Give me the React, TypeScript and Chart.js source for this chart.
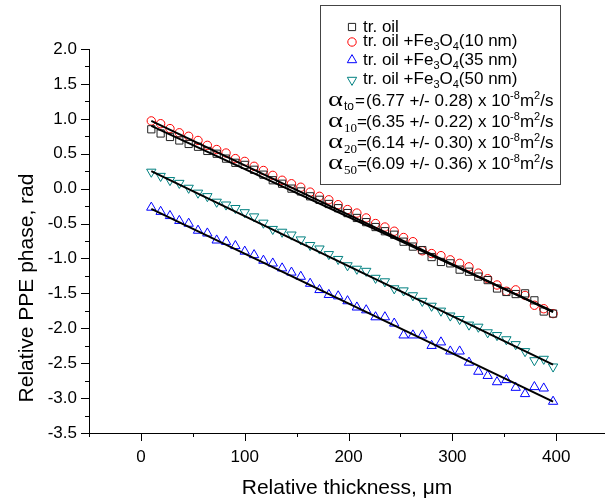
import React, { useEffect, useRef } from 'react';
import { Chart, registerables } from 'chart.js';

Chart.register(...registerables);

// ---------- data ----------
const thickness = [10, 19, 28, 37, 46, 55, 64, 73, 82, 91, 100, 109, 118, 127, 136, 145, 154, 163, 172, 181, 190, 199, 208, 217, 226, 235, 244, 253, 262, 271, 280, 289, 298, 307, 316, 325, 334, 343, 352, 361, 370, 379, 388, 397];

const phaseTrOil = [0.85, 0.79, 0.74, 0.69, 0.64, 0.60, 0.54, 0.50, 0.43, 0.37, 0.34, 0.27, 0.20, 0.12, 0.07, 0.00, -0.04, -0.11, -0.16, -0.22, -0.28, -0.35, -0.42, -0.48, -0.55, -0.61, -0.66, -0.76, -0.83, -0.88, -0.98, -1.05, -1.07, -1.16, -1.19, -1.26, -1.31, -1.43, -1.48, -1.51, -1.50, -1.60, -1.76, -1.79];
const phase10nm = [0.97, 0.93, 0.86, 0.80, 0.75, 0.69, 0.62, 0.56, 0.51, 0.43, 0.39, 0.32, 0.26, 0.19, 0.12, 0.07, 0.02, -0.05, -0.11, -0.16, -0.23, -0.30, -0.35, -0.42, -0.50, -0.55, -0.61, -0.70, -0.76, -0.89, -0.93, -0.96, -1.02, -1.07, -1.12, -1.21, -1.29, -1.38, -1.47, -1.45, -1.53, -1.67, -1.72, -1.79];
const phase35nm = [-0.27, -0.33, -0.39, -0.46, -0.50, -0.60, -0.64, -0.74, -0.76, -0.82, -0.90, -0.95, -1.03, -1.07, -1.14, -1.20, -1.26, -1.36, -1.45, -1.52, -1.54, -1.61, -1.70, -1.74, -1.84, -1.84, -1.93, -2.10, -2.10, -2.10, -2.25, -2.20, -2.33, -2.33, -2.49, -2.62, -2.68, -2.77, -2.74, -2.85, -2.94, -2.84, -2.86, -3.05];
const phase50nm = [0.24, 0.18, 0.12, 0.08, 0.01, -0.06, -0.11, -0.19, -0.23, -0.28, -0.34, -0.40, -0.49, -0.58, -0.62, -0.66, -0.73, -0.81, -0.86, -0.94, -1.01, -1.10, -1.15, -1.18, -1.28, -1.33, -1.43, -1.46, -1.53, -1.61, -1.68, -1.75, -1.82, -1.87, -1.95, -1.98, -2.06, -2.10, -2.16, -2.23, -2.33, -2.46, -2.44, -2.55];

const fitX = [10, 397];
const fitTrOil = [0.90, -1.76];
const fit10nm = [0.97, -1.77];
const fit35nm = [-0.29, -3.05];
const fit50nm = [0.25, -2.52];

const xTickValues = [-50, 0, 50, 100, 150, 200, 250, 300, 350, 400];
const xLabelTicks = [0, 100, 200, 300, 400];
const yTickValues = [-3.5, -3.0, -2.5, -2.0, -1.5, -1.0, -0.5, 0.0, 0.5, 1.0, 1.5, 2.0];
const yMinorTickValues = [-3.25, -2.75, -2.25, -1.75, -1.25, -0.75, -0.25, 0.25, 0.75, 1.25, 1.75];
const xMinorTickValues = [-50, 50, 150, 250, 350];

const xTitle = 'Relative thickness, \u03bcm';
const yTitle = 'Relative PPE phase, rad';

const legendBase = 'tr. oil';
const particleSizes = ['10 nm', '35 nm', '50 nm'];
const alphaSubs = ['to', '10', '20', '50'];
const alphaValues = ['6.77', '6.35', '6.14', '6.09'];
const alphaErrors = ['0.28', '0.22', '0.30', '0.36'];

const SANS = "'Liberation Sans', Arial, sans-serif";
const SERIF = "'Liberation Serif', 'Times New Roman', serif";

const COLORS = { oil: '#222222', n10: '#ff0000', n35: '#0000ff', n50: '#008080' };

function pts(xs: number[], ys: number[]) {
  return xs.map((x, i) => ({ x, y: ys[i] }));
}

type Seg = [string, string, number];
function drawSegs(ctx: CanvasRenderingContext2D, x: number, y: number, segs: Seg[]) {
  for (const [t, f, dy] of segs) {
    ctx.font = f;
    ctx.fillText(t, x, y + dy);
    x += ctx.measureText(t).width;
  }
  return x;
}

function marker(ctx: CanvasRenderingContext2D, kind: string, x: number, y: number, color: string) {
  ctx.save();
  ctx.strokeStyle = color;
  ctx.lineWidth = 1;
  ctx.beginPath();
  if (kind === 'rect') {
    const s = 3.6;
    ctx.rect(x - s, y - s, 2 * s, 2 * s);
  } else if (kind === 'circle') {
    ctx.arc(x, y, 4.2, 0, Math.PI * 2);
  } else if (kind === 'up') {
    const r = 5.4;
    ctx.moveTo(x, y - r);
    ctx.lineTo(x + r * 0.866, y + r / 2);
    ctx.lineTo(x - r * 0.866, y + r / 2);
    ctx.closePath();
  } else {
    const r = 5.4;
    ctx.moveTo(x, y + r);
    ctx.lineTo(x + r * 0.866, y - r / 2);
    ctx.lineTo(x - r * 0.866, y - r / 2);
    ctx.closePath();
  }
  ctx.stroke();
  ctx.restore();
}

const decorPlugin = {
  id: 'decor',
  afterDraw(chart: any) {
    const ctx: CanvasRenderingContext2D = chart.ctx;
    const xs = chart.scales.x;
    const ys = chart.scales.y;
    const ca = chart.chartArea;
    ctx.save();
    ctx.strokeStyle = '#000';
    ctx.lineWidth = 1;
    // tick marks
    ctx.beginPath();
    for (const v of xTickValues) {
      const px = Math.round(xs.getPixelForValue(v)) + 0.5;
      const len = xMinorTickValues.includes(v) ? 4 : 8;
      ctx.moveTo(px, ca.bottom);
      ctx.lineTo(px, ca.bottom + len);
    }
    for (const v of yTickValues) {
      const py = Math.round(ys.getPixelForValue(v)) + 0.5;
      ctx.moveTo(ca.left - 8, py);
      ctx.lineTo(ca.left, py);
    }
    for (const v of yMinorTickValues) {
      const py = Math.round(ys.getPixelForValue(v)) + 0.5;
      ctx.moveTo(ca.left - 4, py);
      ctx.lineTo(ca.left, py);
    }
    ctx.stroke();

    // axis titles
    ctx.fillStyle = '#000';
    ctx.font = `21px ${SANS}`;
    ctx.textAlign = 'center';
    ctx.textBaseline = 'alphabetic';
    ctx.fillText(xTitle, (ca.left + ca.right) / 2, 494);
    ctx.save();
    ctx.translate(33, 288);
    ctx.rotate(-Math.PI / 2);
    ctx.fillText(yTitle, 0, 0);
    ctx.restore();

    // legend box
    ctx.strokeStyle = '#444';
    ctx.lineWidth = 1;
    ctx.strokeRect(320.5, 5.5, 240, 179);

    ctx.textAlign = 'left';
    ctx.fillStyle = '#000';
    const main = `17px ${SANS}`;
    const sub = `11px ${SANS}`;
    const markerX = 352;
    const textX = 363;
    marker(ctx, 'rect', markerX, 27, COLORS.oil);
    drawSegs(ctx, textX, 32, [[legendBase, main, 0]]);
    const kinds = ['circle', 'up', 'down'];
    const cols = [COLORS.n10, COLORS.n35, COLORS.n50];
    const rowY = [46, 65, 84];
    const markY = [42, 60, 80];
    particleSizes.forEach((s, i) => {
      marker(ctx, kinds[i], markerX, markY[i], cols[i]);
      drawSegs(ctx, textX, rowY[i], [
        [legendBase + ' +Fe', main, 0],
        ['3', sub, 4],
        ['O', main, 0],
        ['4', sub, 4],
        ['(' + s + ')', main, 0],
      ]);
    });
    const alphaY = [106, 127, 148, 169];
    alphaSubs.forEach((sb, i) => {
      const y = alphaY[i];
      ctx.save();
      ctx.font = `22px ${SERIF}`;
      const aw = ctx.measureText('\u03b1').width;
      ctx.translate(328, y);
      ctx.scale(15 / aw, 1);
      ctx.fillText('\u03b1', 0, 0);
      ctx.restore();
      let sx = 344;
      if (sb === 'to') {
        ctx.font = `12px ${SANS}`;
        ctx.fillText(sb, sx, y + 4);
        sx += ctx.measureText(sb).width;
      } else {
        ctx.font = `13px ${SERIF}`;
        ctx.fillText(sb, sx, y + 5);
        sx += ctx.measureText(sb).width;
      }
      ctx.font = main;
      ctx.fillText('=', Math.max(sx, 355), y);
      drawSegs(ctx, 366, y, [
        [`(${alphaValues[i]} +/- ${alphaErrors[i]}) x 10`, main, 0],
        ['-8', sub, -7],
        ['m', main, 0],
        ['2', sub, -7],
        ['/s', main, 0],
      ]);
    });
    ctx.restore();
  },
};

export default function App() {
  const ref = useRef<HTMLCanvasElement>(null);
  useEffect(() => {
    if (!ref.current) return;
    Chart.defaults.font.family = SANS;
    Chart.defaults.color = '#000';
    const fitStyle = { showLine: true, borderColor: '#000', borderWidth: 2, pointRadius: 0, fill: false };
    const chart = new Chart(ref.current, {
      type: 'scatter',
      data: {
        datasets: [
          { label: 'fit oil', data: pts(fitX, fitTrOil), ...fitStyle },
          { label: 'fit 10', data: pts(fitX, fit10nm), ...fitStyle },
          { label: 'fit 35', data: pts(fitX, fit35nm), ...fitStyle },
          { label: 'fit 50', data: pts(fitX, fit50nm), ...fitStyle },
          { label: 'tr. oil', data: pts(thickness, phaseTrOil), pointStyle: 'rect', pointRadius: 5.1, borderColor: COLORS.oil, backgroundColor: 'rgba(0,0,0,0)', borderWidth: 1 },
          { label: '10 nm', data: pts(thickness, phase10nm), pointStyle: 'circle', pointRadius: 4.2, borderColor: COLORS.n10, backgroundColor: 'rgba(0,0,0,0)', borderWidth: 1 },
          { label: '35 nm', data: pts(thickness, phase35nm), pointStyle: 'triangle', pointRadius: 5.4, borderColor: COLORS.n35, backgroundColor: 'rgba(0,0,0,0)', borderWidth: 1 },
          { label: '50 nm', data: pts(thickness, phase50nm), pointStyle: 'triangle', rotation: 180, pointRadius: 5.4, borderColor: COLORS.n50, backgroundColor: 'rgba(0,0,0,0)', borderWidth: 1 },
        ] as any,
      },
      options: {
        responsive: false,
        animation: false,
        devicePixelRatio: 1,
        layout: { autoPadding: false, padding: { top: 49, left: 0, right: 0, bottom: 0 } },
        plugins: { legend: { display: false }, tooltip: { enabled: false }, title: { display: false } },
        scales: {
          x: {
            type: 'linear',
            min: -50,
            max: 447,
            afterBuildTicks: (s: any) => { s.ticks = xTickValues.map((v) => ({ value: v })); },
            afterFit: (s: any) => { s.height = 70; },
            ticks: {
              autoSkip: false,
              maxRotation: 0,
              padding: 14,
              color: '#000',
              font: { size: 17, family: SANS },
              callback: (v: any) => (xLabelTicks.includes(Number(v)) ? String(v) : ''),
            },
            grid: { display: false, drawTicks: false },
            border: { display: true, color: '#000', width: 1 },
          },
          y: {
            type: 'linear',
            min: -3.5,
            max: 2,
            afterBuildTicks: (s: any) => { s.ticks = yTickValues.map((v) => ({ value: v })); },
            afterFit: (s: any) => { s.width = 89; },
            ticks: {
              autoSkip: false,
              padding: 12,
              color: '#000',
              font: { size: 17, family: SANS },
              callback: (v: any) => Number(v).toFixed(1),
            },
            grid: { display: false, drawTicks: false },
            border: { display: true, color: '#000', width: 1 },
          },
        },
      } as any,
      plugins: [decorPlugin],
    });
    return () => chart.destroy();
  }, []);
  return (
    <div style={{ position: 'absolute', left: 0, top: 0, width: 605, height: 503, background: '#fff' }}>
      <canvas ref={ref} width={605} height={503} style={{ display: 'block', width: 605, height: 503 }} />
    </div>
  );
}
